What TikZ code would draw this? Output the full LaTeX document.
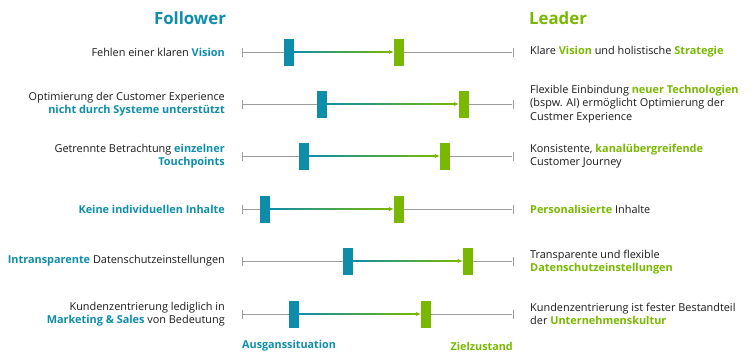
\documentclass[tikz,border=0pt]{standalone}
\usepackage{fontspec}
\setmainfont{Open Sans}
\usetikzlibrary{arrows.meta,calc}
\definecolor{fteal}{HTML}{0E8DAB}
\definecolor{lgreen}{HTML}{78B800}
\definecolor{rulegray}{HTML}{9C9C9C}
\definecolor{bodytext}{HTML}{1A1A1A}
\newcommand{\fhl}[1]{{\color{fteal}\bfseries #1}}
\newcommand{\lhl}[1]{{\color{lgreen}\bfseries #1}}
\begin{document}
\begin{tikzpicture}[x=1pt,y=-1pt,
  marker/.style={rectangle, inner sep=0pt, minimum width=10pt, minimum height=27pt},
  fmark/.style={marker, fill=fteal},
  lmark/.style={marker, fill=lgreen},
  endtick/.style={rectangle, inner sep=0pt, minimum width=0.9pt, minimum height=9pt, fill=rulegray},
  scaleline/.style={draw=rulegray, line width=0.9pt},
  tip/.style={draw=lgreen, line width=1pt, -{Latex[length=5pt,width=4.5pt]}},
  lefttext/.style={anchor=east, align=right, inner sep=0pt, text=bodytext, font=\fontsize{10.9}{13.4}\selectfont},
  righttext/.style={anchor=west, align=left, inner sep=0pt, text=bodytext, font=\fontsize{10.9}{13.4}\selectfont},
  heading/.style={inner sep=0pt, font=\fontsize{16.8}{19}\selectfont\bfseries},
  footer/.style={inner sep=0pt, font=\fontsize{10.8}{12}\selectfont\bfseries}]
\useasboundingbox (0,0) rectangle (754,362);
\node[heading, text=fteal] (follower) at (190,18) {Follower};
\node[heading, text=lgreen] (leader) at (558,18) {Leader};

\node[endtick] (s1) at (242,52) {};
\node[endtick] (e1) at (513,52) {};
\node[fmark] (f1) at (289,52) {};
\node[lmark] (l1) at (399,52) {};
\draw[scaleline] (s1) -- (f1);
\draw[scaleline] (l1) -- (e1);
\shade[left color=fteal, right color=lgreen] ($(f1.east)+(0,-0.6)$) rectangle ($(l1.west)+(-4,0.6)$);
\draw[tip] ($(l1.west)+(-6,0)$) -- (l1.west);
\node[lefttext] (ft1) at (225,52) {Fehlen einer klaren \fhl{Vision}};
\node[righttext] (lt1) at (530,52) {Klare \lhl{Vision} und holistische \lhl{Strategie}};

\node[endtick] (s2) at (242,104) {};
\node[endtick] (e2) at (513,104) {};
\node[fmark] (f2) at (322,104) {};
\node[lmark] (l2) at (464,104) {};
\draw[scaleline] (s2) -- (f2);
\draw[scaleline] (l2) -- (e2);
\shade[left color=fteal, right color=lgreen] ($(f2.east)+(0,-0.6)$) rectangle ($(l2.west)+(-4,0.6)$);
\draw[tip] ($(l2.west)+(-6,0)$) -- (l2.west);
\node[lefttext] (ft2) at (225,104) {Optimierung der Customer Experience\\\fhl{nicht durch Systeme unterstützt}};
\node[righttext] (lt2) at (530,104) {Flexible Einbindung \lhl{neuer Technologien}\\(bspw. AI) ermöglicht Optimierung der\\Custmer Experience};

\node[endtick] (s3) at (242,156) {};
\node[endtick] (e3) at (513,156) {};
\node[fmark] (f3) at (304,156) {};
\node[lmark] (l3) at (445,156) {};
\draw[scaleline] (s3) -- (f3);
\draw[scaleline] (l3) -- (e3);
\shade[left color=fteal, right color=lgreen] ($(f3.east)+(0,-0.6)$) rectangle ($(l3.west)+(-4,0.6)$);
\draw[tip] ($(l3.west)+(-6,0)$) -- (l3.west);
\node[lefttext] (ft3) at (225,156) {Getrennte Betrachtung \fhl{einzelner}\\\fhl{Touchpoints}};
\node[righttext] (lt3) at (530,156) {Konsistente, \lhl{kanalübergreifende}\\Customer Journey};

\node[endtick] (s4) at (242,209) {};
\node[endtick] (e4) at (513,209) {};
\node[fmark] (f4) at (265,209) {};
\node[lmark] (l4) at (399,209) {};
\draw[scaleline] (s4) -- (f4);
\draw[scaleline] (l4) -- (e4);
\shade[left color=fteal, right color=lgreen] ($(f4.east)+(0,-0.6)$) rectangle ($(l4.west)+(-4,0.6)$);
\draw[tip] ($(l4.west)+(-6,0)$) -- (l4.west);
\node[lefttext] (ft4) at (225,209) {\fhl{Keine individuellen Inhalte}};
\node[righttext] (lt4) at (530,209) {\lhl{Personalisierte} Inhalte};

\node[endtick] (s5) at (242,261) {};
\node[endtick] (e5) at (513,261) {};
\node[fmark] (f5) at (348,261) {};
\node[lmark] (l5) at (468,261) {};
\draw[scaleline] (s5) -- (f5);
\draw[scaleline] (l5) -- (e5);
\shade[left color=fteal, right color=lgreen] ($(f5.east)+(0,-0.6)$) rectangle ($(l5.west)+(-4,0.6)$);
\draw[tip] ($(l5.west)+(-6,0)$) -- (l5.west);
\node[lefttext] (ft5) at (225,261) {\fhl{Intransparente} Datenschutzeinstellungen};
\node[righttext] (lt5) at (530,262) {Transparente und flexible\\\lhl{Datenschutzeinstellungen}};

\node[endtick] (s6) at (242,314) {};
\node[endtick] (e6) at (513,314) {};
\node[fmark] (f6) at (294,314) {};
\node[lmark] (l6) at (426,314) {};
\draw[scaleline] (s6) -- (f6);
\draw[scaleline] (l6) -- (e6);
\shade[left color=fteal, right color=lgreen] ($(f6.east)+(0,-0.6)$) rectangle ($(l6.west)+(-4,0.6)$);
\draw[tip] ($(l6.west)+(-6,0)$) -- (l6.west);
\node[lefttext] (ft6) at (225,314) {Kundenzentrierung lediglich in\\\fhl{Marketing \& Sales} von Bedeutung};
\node[righttext] (lt6) at (530,314) {Kundenzentrierung ist fester Bestandteil\\der \lhl{Unternehmenskultur}};

\node[footer, text=fteal, anchor=west] (start) at (242,346) {Ausganssituation};
\node[footer, text=lgreen, anchor=east] (goal) at (513,346) {Zielzustand};
\end{tikzpicture}
\end{document}
